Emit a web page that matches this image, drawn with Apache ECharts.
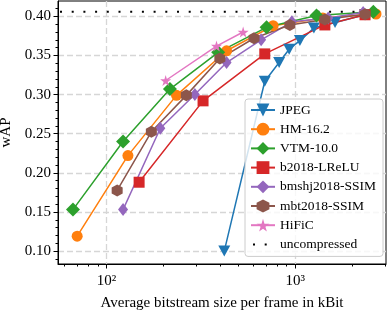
<!DOCTYPE html>
<html><head><meta charset="utf-8">
<script src="https://cdn.jsdelivr.net/npm/echarts@6/dist/echarts.min.js"></script>
<style>html,body{margin:0;padding:0;background:#fff}#c{width:388px;height:311px}</style>
</head><body><div id="c"></div>
<script>
// ---- data (x: kBit per frame, y: wAP) ----
const jpegX  = [421, 690, 822, 929, 1059, 1256, 1626, 2344];
const jpegY  = [0.100, 0.317, 0.341, 0.358, 0.369, 0.385, 0.392, 0.402];
const hmX    = [70, 130, 235, 433, 764, 1400, 2680];
const hmY    = [0.119, 0.222, 0.299, 0.356, 0.388, 0.398, 0.403];
const vtmX   = [66.5, 122.5, 217, 391, 705, 1297, 2594];
const vtmY   = [0.153, 0.240, 0.307, 0.354, 0.386, 0.401, 0.406];
const b2018X = [149, 325, 690, 1436, 2344];
const b2018Y = [0.188, 0.292, 0.352, 0.389, 0.402];
const bmshjX = [122.5, 193, 294, 433, 660, 960, 1496, 2290];
const bmshjY = [0.153, 0.257, 0.300, 0.341, 0.370, 0.393, 0.398, 0.405];
const mbtX   = [114, 173, 265, 399, 605, 937, 1436, 2344];
const mbtY   = [0.1775, 0.2524, 0.299, 0.346, 0.372, 0.389, 0.396, 0.4026];
const hificX = [206, 383, 530];
const hificY = [0.318, 0.362, 0.380];
const uncompressedY = 0.406;
const xRange = [55.4, 3027];
const yRange = [0.0835, 0.4196];
const xMajorTicks = [100, 1000];
const xMinorTicks = [60, 70, 80, 90, 200, 300, 400, 500, 600, 700, 800, 900, 2000, 3000];
const yMajorTicks = [0.10, 0.15, 0.20, 0.25, 0.30, 0.35, 0.40];
const yMinorTicks = [0.09,0.11,0.12,0.13,0.14,0.16,0.17,0.18,0.19,0.21,0.22,0.23,0.24,0.26,0.27,0.28,0.29,0.31,0.32,0.33,0.34,0.36,0.37,0.38,0.39,0.41];
const xLabels = {100: '10²', 1000: '10³'};

const zip = (xs, ys) => xs.map((x, i) => [x, ys[i]]);
const FONT = 'Liberation Serif';
const C = ['#1f77b4','#ff7f0e','#2ca02c','#d62728','#9467bd','#8c564b','#e377c2'];
const downTri = 'path://M0,0 L20,0 L10,18 Z';
const hexagon = 'path://M0,-10 L8.66,-5 L8.66,5 L0,10 L-8.66,5 L-8.66,-5 Z';
const star = 'path://M50,0 L61,35 L98,35 L68,57 L79,91 L50,70 L21,91 L32,57 L2,35 L39,35 Z';

function mk(name, xs, ys, color, symbol, size) {
  return {
    name, type: 'line', data: zip(xs, ys),
    symbol, symbolSize: size, showSymbol: true,
    lineStyle: {color, width: 1.5}, itemStyle: {color, opacity: 1},
    animation: false, clip: true, emphasis: {disabled: true}
  };
}

const chart = echarts.init(document.getElementById('c'), null, {renderer: 'canvas'});
chart.setOption({
  animation: false,
  grid: {left: 58, right: 2, top: 1, bottom: 47, containLabel: false, outerBoundsMode: 'none',
         show: true, borderColor: '#000', borderWidth: 1, backgroundColor: 'transparent'},
  xAxis: [{
    type: 'log', logBase: 10, min: xRange[0], max: xRange[1],
    name: 'Average bitstream size per frame in kBit', nameLocation: 'middle', nameGap: 32,
    nameTextStyle: {fontFamily: FONT, fontSize: 15, color: '#000'},
    axisLine: {show: true, lineStyle: {color: '#000', width: 1}},
    axisTick: {show: true, customValues: xMajorTicks, length: 4.5, lineStyle: {color: '#000', width: 1}},
    axisLabel: {customValues: xMajorTicks, formatter: v => xLabels[Math.round(v)] || '', fontFamily: FONT, fontSize: 15, color: '#000', margin: 10},
    splitLine: {show: true, lineStyle: {color: '#d6d6d6', type: [6, 3], width: 1.3}},
    minorTick: {show: false}
  }, {
    type: 'log', logBase: 10, min: xRange[0], max: xRange[1], position: 'bottom', offset: 0,
    axisLine: {show: false},
    axisTick: {show: true, customValues: xMinorTicks, length: 2.5, lineStyle: {color: '#000', width: 1}},
    axisLabel: {show: false}, splitLine: {show: false}
  }],
  yAxis: [{
    type: 'value', min: yRange[0], max: yRange[1],
    name: 'wAP', nameLocation: 'middle', nameGap: 44,
    nameTextStyle: {fontFamily: FONT, fontSize: 15, color: '#000'},
    axisLine: {show: true, lineStyle: {color: '#000', width: 1}},
    axisTick: {show: true, customValues: yMajorTicks, length: 4.5, lineStyle: {color: '#000', width: 1}},
    axisLabel: {customValues: yMajorTicks, formatter: v => v.toFixed(2), fontFamily: FONT, fontSize: 15, color: '#000', margin: 7},
    splitLine: {show: true, lineStyle: {color: '#d6d6d6', type: [6, 3], width: 1.3}}
  }, {
    type: 'value', min: yRange[0], max: yRange[1], position: 'left', offset: 0,
    axisLine: {show: false},
    axisTick: {show: true, customValues: yMinorTicks, length: 2.5, lineStyle: {color: '#000', width: 1}},
    axisLabel: {show: false}, splitLine: {show: false}
  }],
  legend: {
    orient: 'vertical', left: 245, top: 99,
    itemWidth: 24, itemHeight: 16, itemGap: 3.2,
    padding: [3, 7, 4, 5],
    backgroundColor: 'rgba(255,255,255,0.8)', borderColor: '#cccccc', borderWidth: 1, borderRadius: 3,
    textStyle: {fontFamily: FONT, fontSize: 13.5, color: '#000', lineHeight: 16},
    data: ['JPEG','HM-16.2','VTM-10.0','b2018-LReLU','bmshj2018-SSIM','mbt2018-SSIM','HiFiC',
           {name: 'uncompressed', itemStyle: {opacity: 0}}]
  },
  series: [
    mk('JPEG', jpegX, jpegY, C[0], downTri, [12, 11]),
    mk('HM-16.2', hmX, hmY, C[1], 'circle', 11),
    mk('VTM-10.0', vtmX, vtmY, C[2], 'diamond', 14),
    mk('b2018-LReLU', b2018X, b2018Y, C[3], 'rect', 11),
    mk('bmshj2018-SSIM', bmshjX, bmshjY, C[4], 'diamond', [10, 13]),
    mk('mbt2018-SSIM', mbtX, mbtY, C[5], hexagon, [11, 12]),
    mk('HiFiC', hificX, hificY, C[6], star, 11),
    {
      name: 'uncompressed', type: 'line', data: [[xRange[0], uncompressedY], [xRange[1], uncompressedY]],
      symbol: 'none', lineStyle: {color: '#000', width: 2, type: [2, 9.7], dashOffset: -2}, itemStyle: {color: '#000'},
      animation: false, emphasis: {disabled: true}
    }
  ]
});
</script></body></html>
